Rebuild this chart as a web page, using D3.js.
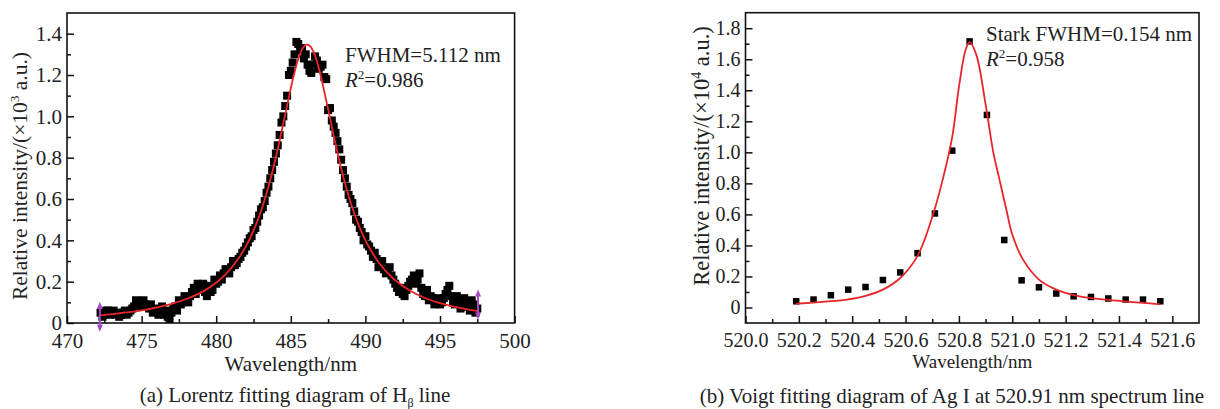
<!DOCTYPE html>
<html>
<head>
<meta charset="utf-8">
<script src="https://cdn.jsdelivr.net/npm/d3@7"></script>
<style>
  body { margin: 0; background: #fff; }
  svg text { font-family: "Liberation Serif", "Times New Roman", serif; fill: #222; }
</style>
</head>
<body>
<svg id="chart" width="1220" height="409"></svg>
<script>
// (a) H-beta line: measured points (two interleaved read-outs of the dense band)
const hbWl = [472.25, 472.5, 472.75, 473.0, 473.25, 473.5, 473.75, 474.0, 474.25, 474.5, 474.75,
  475.0, 475.25, 475.5, 475.75, 476.0, 476.25, 476.5, 476.75, 477.0, 477.25, 477.5, 477.75,
  478.0, 478.25, 478.5, 478.75, 479.0, 479.25, 479.5, 479.75, 480.0, 480.25, 480.5, 480.75,
  481.0, 481.25, 481.5, 481.75, 482.0, 482.25, 482.5, 482.75, 483.0, 483.25, 483.5, 483.75,
  484.0, 484.25, 484.5, 484.75, 485.0, 485.25, 485.5, 485.75, 486.0, 486.25, 486.5, 486.75,
  487.0, 487.25, 487.5, 487.75, 488.0, 488.25, 488.5, 488.75, 489.0, 489.25, 489.5, 489.75,
  490.0, 490.25, 490.5, 490.75, 491.0, 491.25, 491.5, 491.75, 492.0, 492.25, 492.5, 492.75,
  493.0, 493.25, 493.5, 493.75, 494.0, 494.25, 494.5, 494.75, 495.0, 495.25, 495.5, 495.75,
  496.0, 496.25, 496.5, 496.75, 497.0, 497.25, 497.5];
const hbInt = [0.05, 0.04, 0.06, 0.05, 0.04, 0.03, 0.05, 0.04, 0.06, 0.08, 0.10,
  0.10, 0.09, 0.07, 0.05, 0.07, 0.05, 0.04, 0.03, 0.05, 0.08, 0.11, 0.10,
  0.12, 0.13, 0.17, 0.19, 0.16, 0.15, 0.18, 0.16, 0.19, 0.23, 0.24, 0.26,
  0.27, 0.28, 0.31, 0.34, 0.37, 0.41, 0.45, 0.49, 0.55, 0.59, 0.66, 0.74,
  0.82, 0.91, 1.00, 1.10, 1.22, 1.30, 1.35, 1.33, 1.30, 1.22, 1.25, 1.27,
  1.24, 1.19, 1.03, 0.98, 0.92, 0.84, 0.74, 0.66, 0.60, 0.54, 0.49, 0.44,
  0.42, 0.37, 0.32, 0.31, 0.29, 0.26, 0.25, 0.23, 0.19, 0.15, 0.14, 0.16,
  0.20, 0.23, 0.21, 0.17, 0.13, 0.11, 0.12, 0.10, 0.09, 0.12, 0.16, 0.13,
  0.09, 0.11, 0.08, 0.10, 0.06, 0.09, 0.07];
const hbWl2 = [472.375, 472.625, 472.875, 473.125, 473.375, 473.625, 473.875, 474.125, 474.375,
  474.625, 474.875, 475.125, 475.375, 475.625, 475.875, 476.125, 476.375, 476.625, 476.875,
  477.125, 477.375, 477.625, 477.875, 478.125, 478.375, 478.625, 478.875, 479.125, 479.375,
  479.625, 479.875, 480.125, 480.375, 480.625, 480.875, 481.125, 481.375, 481.625, 481.875,
  482.125, 482.375, 482.625, 482.875, 483.125, 483.375, 483.625, 483.875, 484.125, 484.375,
  484.625, 484.875, 485.125, 485.375, 485.625, 485.875, 486.125, 486.375, 486.625, 486.875,
  487.125, 487.375, 487.625, 487.875, 488.125, 488.375, 488.625, 488.875, 489.125, 489.375,
  489.625, 489.875, 490.125, 490.375, 490.625, 490.875, 491.125, 491.375, 491.625, 491.875,
  492.125, 492.375, 492.625, 492.875, 493.125, 493.375, 493.625, 493.875, 494.125, 494.375,
  494.625, 494.875, 495.125, 495.375, 495.625, 495.875, 496.125, 496.375, 496.625, 496.875,
  497.125, 497.375];
const hbInt2 = [0.03, 0.06, 0.04, 0.06, 0.05, 0.04, 0.06, 0.05, 0.07,
  0.11, 0.08, 0.11, 0.08, 0.09, 0.06, 0.04, 0.08, 0.06, 0.02,
  0.07, 0.06, 0.09, 0.13, 0.10, 0.15, 0.14, 0.18, 0.19, 0.13,
  0.15, 0.21, 0.20, 0.21, 0.26, 0.24, 0.30, 0.29, 0.32, 0.35,
  0.39, 0.42, 0.46, 0.52, 0.56, 0.63, 0.70, 0.78, 0.86, 0.97,
  1.05, 1.20, 1.26, 1.36, 1.32, 1.28, 1.25, 1.21, 1.29, 1.23,
  1.25, 1.18, 1.04, 0.95, 0.88, 0.79, 0.70, 0.62, 0.58, 0.50,
  0.46, 0.40, 0.38, 0.35, 0.34, 0.27, 0.30, 0.24, 0.27, 0.21,
  0.17, 0.17, 0.13, 0.18, 0.21, 0.19, 0.24, 0.14, 0.16, 0.13,
  0.09, 0.12, 0.10, 0.14, 0.18, 0.10, 0.13, 0.07, 0.12, 0.08,
  0.11, 0.05];

// (a) Lorentz fit
const hbFitWl = [472.2, 473, 474, 475, 476, 477, 478, 479, 480, 480.5, 481, 481.5, 482, 482.5,
  483, 483.5, 484, 484.5, 485, 485.25, 485.5, 485.75, 486, 486.25, 486.5, 486.75, 487,
  487.5, 488, 488.5, 489, 489.5, 490, 490.5, 491, 491.5, 492, 493, 494, 495, 496, 497, 497.5];
const hbFit = [0.037, 0.043, 0.051, 0.061, 0.075, 0.092, 0.116, 0.148, 0.195, 0.227, 0.265,
  0.313, 0.372, 0.447, 0.541, 0.659, 0.802, 0.966, 1.136, 1.213, 1.277, 1.323, 1.346,
  1.343, 1.316, 1.266, 1.198, 1.035, 0.866, 0.713, 0.585, 0.482, 0.400, 0.335, 0.283,
  0.241, 0.207, 0.156, 0.121, 0.096, 0.078, 0.064, 0.058];

// data-range markers on panel (a)
const selWl = [472.2, 497.55];
const selInt = [0.03, 0.09];

// (b) Ag I 520.91 nm: measured points
const agWl = [520.19, 520.255, 520.32, 520.385, 520.45, 520.515, 520.58, 520.645, 520.71,
  520.775, 520.84, 520.905, 520.97, 521.035, 521.10, 521.165, 521.23, 521.295, 521.36,
  521.425, 521.49, 521.555];
const agInt = [0.040, 0.051, 0.079, 0.115, 0.132, 0.177, 0.226, 0.350, 0.606, 1.011, 1.715,
  1.241, 0.435, 0.175, 0.130, 0.090, 0.072, 0.068, 0.058, 0.051, 0.051, 0.040];

// (b) Voigt fit
const agFitWl = [520.19, 520.3, 520.38, 520.45, 520.515, 520.58, 520.645, 520.705, 520.74,
  520.775, 520.80, 520.825, 520.84, 520.865, 520.90, 520.93, 520.95, 520.978, 521.0,
  521.04, 521.10, 521.165, 521.23, 521.29, 521.35, 521.415, 521.49, 521.555];
const agFit = [0.024, 0.038, 0.051, 0.075, 0.115, 0.19, 0.333, 0.61, 0.83, 1.10, 1.42, 1.66,
  1.71, 1.63, 1.31, 0.99, 0.84, 0.63, 0.47, 0.31, 0.18, 0.115, 0.08, 0.062, 0.05, 0.04,
  0.03, 0.02];

// tick labels
const hbXTicks = [470, 475, 480, 485, 490, 495, 500];
const hbYTicks = [0, 0.2, 0.4, 0.6, 0.8, 1.0, 1.2, 1.4];
const agXTicks = [520.0, 520.2, 520.4, 520.6, 520.8, 521.0, 521.2, 521.4, 521.6];
const agYTicks = [0, 0.2, 0.4, 0.6, 0.8, 1.0, 1.2, 1.4, 1.6, 1.8];

const svg = d3.select('#chart');
const red = '#e8262a';
const serif = '"Liberation Serif", "Times New Roman", serif';

const yFmt = d => d === 0 ? '0' : d3.format('.1f')(d);

function panel(cfg) {
  const g = svg.append('g');
  const x = d3.scaleLinear().domain(cfg.xDomain).range([cfg.left, cfg.right]);
  const y = d3.scaleLinear().domain(cfg.yDomain).range([cfg.bottom, cfg.top]);

  // minor ticks
  g.append('g')
    .attr('transform', `translate(0,${cfg.bottom})`)
    .call(d3.axisBottom(x).tickValues(cfg.xMinor).tickSize(-4).tickFormat(''))
    .call(a => a.select('.domain').remove());
  g.append('g')
    .attr('transform', `translate(${cfg.left},0)`)
    .call(d3.axisLeft(y).tickValues(cfg.yMinor).tickSize(-4).tickFormat(''))
    .call(a => a.select('.domain').remove());

  // major ticks + labels
  const xa = g.append('g')
    .attr('transform', `translate(0,${cfg.bottom})`)
    .call(d3.axisBottom(x).tickValues(cfg.xTicks).tickSize(-7).tickPadding(cfg.xPad)
      .tickFormat(cfg.xFmt));
  const ya = g.append('g')
    .attr('transform', `translate(${cfg.left},0)`)
    .call(d3.axisLeft(y).tickValues(cfg.yTicks).tickSize(-7).tickPadding(5).tickFormat(yFmt));
  [xa, ya].forEach(a => {
    a.attr('font-family', serif).attr('font-size', cfg.tickSize);
    a.select('.domain').remove();
    a.selectAll('text').attr('fill', '#222');
  });
  g.selectAll('.tick line').attr('stroke', '#111').attr('stroke-width', 1.5);

  // frame
  g.append('rect')
    .attr('x', cfg.left).attr('y', cfg.top)
    .attr('width', cfg.right - cfg.left).attr('height', cfg.bottom - cfg.top)
    .attr('fill', 'none').attr('stroke', '#111').attr('stroke-width', 1.6);

  // points
  g.append('g').selectAll('rect')
    .data(cfg.wl.map((w, i) => [w, cfg.val[i]]))
    .join('rect')
      .attr('x', d => x(d[0]) - cfg.sq / 2)
      .attr('y', d => y(d[1]) - cfg.sq / 2)
      .attr('width', cfg.sq).attr('height', cfg.sq)
      .attr('fill', '#000');

  // fit
  g.append('path')
    .datum(cfg.fitWl.map((w, i) => [w, cfg.fit[i]]))
    .attr('fill', 'none').attr('stroke', red).attr('stroke-width', 1.8)
    .attr('d', d3.line().x(d => x(d[0])).y(d => y(d[1])).curve(d3.curveCatmullRom));

  // x title
  g.append('text')
    .attr('x', (cfg.left + cfg.right) / 2).attr('y', cfg.xTitleY)
    .attr('text-anchor', 'middle').attr('font-size', cfg.titleSize)
    .text('Wavelength/nm');

  // y title
  const yt = g.append('text')
    .attr('transform', `translate(${cfg.yTitleX},${cfg.yTitleY}) rotate(-90)`)
    .attr('text-anchor', 'middle').attr('font-size', cfg.yTitleSize);
  yt.append('tspan').text('Relative intensity/(×10');
  yt.append('tspan').attr('font-size', cfg.yTitleSize * 0.62).attr('dy', -8).text(cfg.exp);
  yt.append('tspan').attr('dy', 8).text(' a.u.)');

  // annotation
  g.append('text').attr('x', cfg.noteX).attr('y', cfg.noteY).attr('font-size', 21)
    .text(cfg.note);
  const a2 = g.append('text').attr('x', cfg.noteX).attr('y', cfg.noteY + 25).attr('font-size', 21);
  a2.append('tspan').attr('font-style', 'italic').text('R');
  a2.append('tspan').attr('font-size', 13).attr('dy', -8).text('2');
  a2.append('tspan').attr('dy', 8).text(cfg.r2);

  return {g, x, y};
}

const pa = panel({
  left: 67, right: 514.6, top: 13, bottom: 323,
  xDomain: [470, 500], yDomain: [0, 1.5],
  xTicks: hbXTicks, yTicks: hbYTicks,
  xMinor: [472.5, 477.5, 482.5, 487.5, 492.5, 497.5],
  yMinor: [0.1, 0.3, 0.5, 0.7, 0.9, 1.1, 1.3],
  xFmt: d3.format('d'), xPad: 10, tickSize: 21, titleSize: 21, yTitleSize: 21.5,
  xTitleY: 371, yTitleX: 27, yTitleY: 176, exp: '3',
  wl: hbWl.concat(hbWl2), val: hbInt.concat(hbInt2), sq: 8,
  fitWl: hbFitWl, fit: hbFit,
  note: 'FWHM=5.112 nm', noteX: 345, noteY: 62, r2: '=0.986'
});

// purple data-range markers
pa.g.append('g').selectAll('g')
  .data(selWl.map((w, i) => [w, selInt[i]]))
  .join('g')
    .attr('transform', d => `translate(${pa.x(d[0])},${pa.y(d[1])})`)
    .each(function () {
      const m = d3.select(this);
      m.append('line').attr('y1', -12).attr('y2', 12).attr('stroke', '#a24bc4').attr('stroke-width', 2);
      m.append('path').attr('d', 'M-3,-8L0,-15L3,-8Z').attr('fill', '#a24bc4');
      m.append('path').attr('d', 'M-3,8L0,15L3,8Z').attr('fill', '#a24bc4');
    });

panel({
  left: 745.5, right: 1199, top: 12.7, bottom: 323,
  xDomain: [520.0, 521.7], yDomain: [-0.1, 1.9],
  xTicks: agXTicks, yTicks: agYTicks,
  xMinor: [520.1, 520.3, 520.5, 520.7, 520.9, 521.1, 521.3, 521.5],
  yMinor: [0.1, 0.3, 0.5, 0.7, 0.9, 1.1, 1.3, 1.5, 1.7],
  xFmt: d3.format('.1f'), xPad: 10, tickSize: 20, titleSize: 19, yTitleSize: 22.5,
  xTitleY: 368, yTitleX: 709, yTitleY: 156, exp: '4',
  wl: agWl, val: agInt, sq: 6.5, fitWl: agFitWl, fit: agFit,
  note: 'Stark FWHM=0.154 nm', noteX: 986, noteY: 41, r2: '=0.958'
});

// captions
const c1 = svg.append('text').attr('x', 295).attr('y', 402)
  .attr('text-anchor', 'middle').attr('font-size', 21);
c1.append('tspan').text('(a) Lorentz fitting diagram of H');
c1.append('tspan').attr('font-size', 12).attr('dy', 5).text('β');
c1.append('tspan').attr('dy', -5).text(' line');

svg.append('text').attr('x', 952).attr('y', 403)
  .attr('text-anchor', 'middle').attr('font-size', 21)
  .text('(b) Voigt fitting diagram of Ag I at 520.91 nm spectrum line');
</script>
</body>
</html>
